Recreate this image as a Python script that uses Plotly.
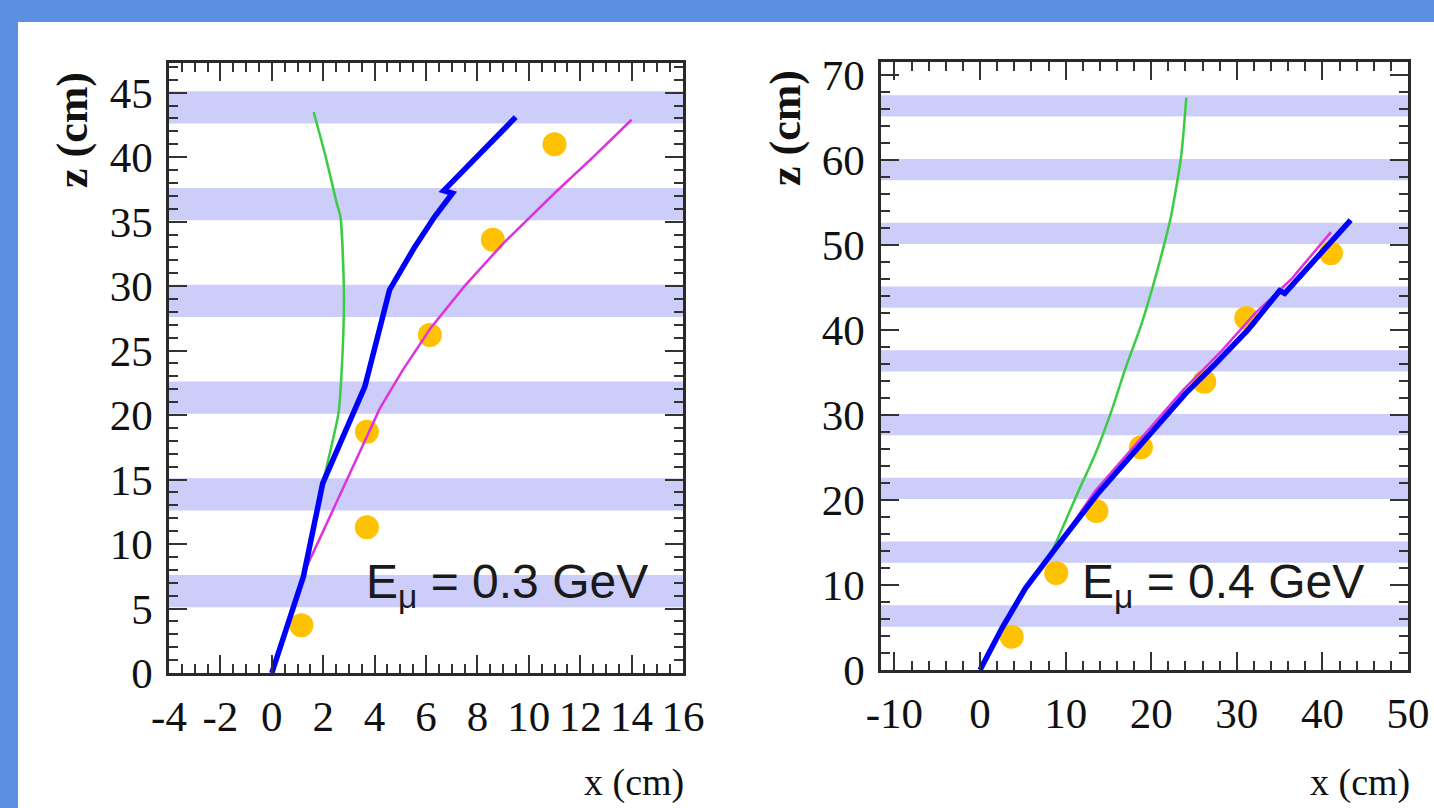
import plotly.graph_objects as go

W, H = 1434, 808

# ---------------- data ----------------
# Left panel: E_mu = 0.3 GeV
left_blue_x = [0, 1.23, 1.98, 3.62, 3.89, 4.58, 5.55, 6.34, 7.03, 6.69, 9.49]
left_blue_z = [0, 7.47, 14.7, 22.2, 24.3, 29.7, 33.0, 35.4, 37.2, 37.4, 43.1]
left_green_x = [0, 1.23, 1.98, 2.1, 2.6, 2.72, 2.8, 2.8, 2.67, 2.53, 2.1, 1.63]
left_green_z = [0, 7.47, 14.7, 15.7, 20.2, 23.5, 27.6, 30.2, 35.4, 36.4, 40.0, 43.5]
left_magenta_x = [0, 1.23, 1.3, 2.0, 2.8, 3.5, 4.2, 5.1, 6.2, 7.5, 9.0, 11.0, 12.5, 14.0]
left_magenta_z = [0, 7.47, 8.0, 11.0, 14.5, 17.5, 20.5, 23.5, 26.8, 30.0, 33.3, 37.2, 40.0, 42.9]
left_hits_x = [1.15, 3.7, 3.7, 6.15, 8.6, 11.0]
left_hits_z = [3.7, 11.3, 18.7, 26.2, 33.6, 41.0]
left_bands_lo = [5.1, 12.6, 20.1, 27.6, 35.1, 42.6]
left_bands_hi = [7.6, 15.1, 22.6, 30.1, 37.6, 45.1]
left_xticks = [-4, -2, 0, 2, 4, 6, 8, 10, 12, 14, 16]
left_xtick_text = ["-4", "-2", "0", "2", "4", "6", "8", "10", "12", "14", "16"]
left_zticks = [0, 5, 10, 15, 20, 25, 30, 35, 40, 45]
left_label = "E<sub>μ</sub> = 0.3 GeV"

# Right panel: E_mu = 0.4 GeV
right_blue_x = [0, 2.6, 5.3, 7.2, 9.2, 13.8, 19.5, 24.0, 27.5, 31.3, 35.0, 35.6, 43.3]
right_blue_z = [0, 5.0, 9.6, 12.2, 14.8, 20.8, 27.4, 32.5, 36.0, 40.0, 44.6, 44.3, 52.9]
right_green_x = [0, 2.6, 5.3, 7.2, 8.4, 11.4, 13.5, 15.4, 17.0, 18.8, 20.3, 21.5, 22.3, 23.5, 24.1]
right_green_z = [0, 5.0, 9.6, 12.2, 14.0, 20.8, 25.5, 30.6, 35.5, 40.5, 45.5, 50.0, 53.3, 60.4, 67.3]
right_magenta_x = [0, 2.6, 5.3, 7.2, 9.2, 13.4, 19.1, 23.8, 28.2, 32.1, 36.4, 41.0]
right_magenta_z = [0, 5.0, 9.6, 12.2, 14.8, 21.0, 27.6, 33.0, 37.5, 41.9, 46.0, 51.5]
right_hits_x = [3.7, 8.9, 13.6, 18.8, 26.2, 31.1, 41.0]
right_hits_z = [3.9, 11.4, 18.7, 26.2, 33.9, 41.4, 49.0]
right_bands_lo = [5.1, 12.6, 20.1, 27.6, 35.1, 42.6, 50.1, 57.6, 65.1]
right_bands_hi = [7.6, 15.1, 22.6, 30.1, 37.6, 45.1, 52.6, 60.1, 67.6]
right_xticks = [-10, 0, 10, 20, 30, 40, 50]
right_xtick_text = ["-10", "0", "10", "20", "30", "40", "50"]
right_zticks = [0, 10, 20, 30, 40, 50, 60, 70]
right_label = "E<sub>μ</sub> = 0.4 GeV"

# ---------------- style ----------------
BORDER = "#5a8fe2"
BAND = "rgb(205,205,250)"
HIT = "#ffc200"
BLUE = "#0000ff"
GREEN = "#3ccc44"
MAGENTA = "#dd33dd"
SERIF = "Liberation Serif"
SANS = "Liberation Sans"

fig = go.Figure()

def add_panel(xa, ya, hx, hz, gx, gz, mx, mz, bx, bz):
    fig.add_trace(go.Scatter(x=hx, y=hz, mode="markers", xaxis=xa, yaxis=ya,
                             marker=dict(size=24, color=HIT, line=dict(width=0)),
                             showlegend=False, hoverinfo="skip"))
    fig.add_trace(go.Scatter(x=gx, y=gz, mode="lines", xaxis=xa, yaxis=ya,
                             line=dict(color=GREEN, width=2.5, shape="spline", smoothing=0.6),
                             showlegend=False))
    fig.add_trace(go.Scatter(x=mx, y=mz, mode="lines", xaxis=xa, yaxis=ya,
                             line=dict(color=MAGENTA, width=2.5), showlegend=False))
    fig.add_trace(go.Scatter(x=bx, y=bz, mode="lines", xaxis=xa, yaxis=ya,
                             line=dict(color=BLUE, width=5.5), showlegend=False))

add_panel("x", "y", left_hits_x, left_hits_z, left_green_x, left_green_z,
          left_magenta_x, left_magenta_z, left_blue_x, left_blue_z)
add_panel("x2", "y2", right_hits_x, right_hits_z, right_green_x, right_green_z,
          right_magenta_x, right_magenta_z, right_blue_x, right_blue_z)

shapes = []
# white page over blue border
shapes.append(dict(type="rect", xref="paper", yref="paper", x0=18 / W, x1=1.02,
                   y0=-0.02, y1=(H - 22) / H, fillcolor="white", line=dict(width=0),
                   layer="below"))
for lo, hi in zip(left_bands_lo, left_bands_hi):
    shapes.append(dict(type="rect", xref="x domain", yref="y", x0=0, x1=1, y0=lo, y1=hi,
                       fillcolor=BAND, line=dict(width=0), layer="below"))
for lo, hi in zip(right_bands_lo, right_bands_hi):
    shapes.append(dict(type="rect", xref="x2 domain", yref="y2", x0=0, x1=1, y0=lo, y1=hi,
                       fillcolor=BAND, line=dict(width=0), layer="below"))


def axis(rng, domain, anchor, tickvals, ticktext, minor_dtick, standoff):
    return dict(range=rng, domain=domain, anchor=anchor, showgrid=False, zeroline=False,
                automargin=False,
                showline=True, linecolor="#2a2a2a", linewidth=2.5, mirror="allticks",
                ticks="inside", ticklen=18, tickwidth=2, tickcolor="#333",
                tickmode="array", tickvals=tickvals, ticktext=ticktext,
                minor=dict(ticks="inside", ticklen=9, tickwidth=1.6, tickcolor="#333",
                           dtick=minor_dtick, tick0=0, showgrid=False),
                tickfont=dict(family=SERIF, size=43, color="#111"),
                ticklabelstandoff=standoff, fixedrange=True)

lx = [169 / W, 683 / W]
ly = [(H - 673) / H, (H - 63) / H]
rx = [881 / W, 1408 / W]
ry = [(H - 670) / H, (H - 62) / H]

fig.update_layout(
    width=W, height=H, margin=dict(l=0, r=0, t=0, b=0, pad=0, autoexpand=False),
    paper_bgcolor=BORDER, plot_bgcolor="rgba(0,0,0,0)",
    xaxis=axis([-4, 16], lx, "y", left_xticks, left_xtick_text, 0.5, 4),
    yaxis=axis([0, 47.3], ly, "x", left_zticks, [str(v) for v in left_zticks], 1, 5),
    xaxis2=axis([-11.57, 50], rx, "y2", right_xticks, right_xtick_text, 2, 4),
    yaxis2=axis([0, 71.5], ry, "x2", right_zticks, [str(v) for v in right_zticks], 2, 5),
    shapes=shapes,
    showlegend=False,
)

ann = []
# axis titles
ann.append(dict(text="<b>z (cm)</b>", x=72 / W, y=(H - 130) / H, xref="paper", yref="paper",
                textangle=-90, showarrow=False, font=dict(family=SERIF, size=44, color="#111"),
                xanchor="center", yanchor="middle"))
ann.append(dict(text="<b>z (cm)</b>", x=785 / W, y=(H - 128) / H, xref="paper", yref="paper",
                textangle=-90, showarrow=False, font=dict(family=SERIF, size=44, color="#111"),
                xanchor="center", yanchor="middle"))
ann.append(dict(text="x (cm)", x=686 / W, y=(H - 782) / H, xref="paper", yref="paper",
                showarrow=False, font=dict(family=SERIF, size=38, color="#111"),
                xanchor="right", yanchor="middle"))
ann.append(dict(text="x (cm)", x=1412 / W, y=(H - 782) / H, xref="paper", yref="paper",
                showarrow=False, font=dict(family=SERIF, size=38, color="#111"),
                xanchor="right", yanchor="middle"))
# energy labels
ann.append(dict(text=left_label, x=364 / W, y=(H - 585) / H, xref="paper", yref="paper",
                showarrow=False, font=dict(family=SANS, size=48, color="#1a1a1a"),
                xanchor="left", yanchor="middle"))
ann.append(dict(text=right_label, x=1080 / W, y=(H - 585) / H, xref="paper", yref="paper",
                showarrow=False, font=dict(family=SANS, size=48, color="#1a1a1a"),
                xanchor="left", yanchor="middle"))
fig.update_layout(annotations=ann)

fig.write_html("out.html")
